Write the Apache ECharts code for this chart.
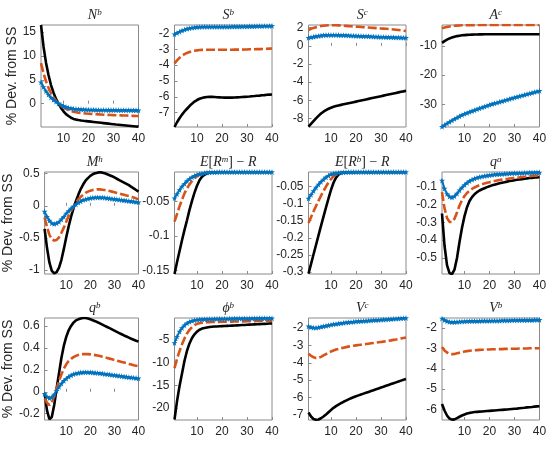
<!DOCTYPE html>
<html>
<head>
<meta charset="utf-8">
<script src="https://cdn.jsdelivr.net/npm/echarts@6/dist/echarts.min.js"></script>
<style>
  html, body { margin: 0; padding: 0; background: #fff; }
  #chart { width: 552px; height: 453px; }
</style>
</head>
<body>
<div id="chart"></div>
<script>
// periods after the shock
const periods = [1,2,3,4,5,6,7,8,9,10,11,12,13,14,15,16,17,18,19,20,21,22,23,24,25,26,27,28,29,30,31,32,33,34,35,36,37,38,39,40]
const xTicks = [10, 20, 30, 40]

// N^b
const nbSolid = [16.5,12.0,8.6,6.0,3.9,2.3,1.0,0.0,-0.9,-1.6,-2.2,-2.6,-2.95,-3.2,-3.35,-3.45,-3.53,-3.6,-3.66,-3.72,-3.78,-3.84,-3.9,-3.96,-4.02,-4.08,-4.14,-4.2,-4.26,-4.32,-4.38,-4.43,-4.48,-4.53,-4.58,-4.63,-4.68,-4.73,-4.78,-4.83]
const nbDash = [8.5,6.4,4.7,3.3,2.2,1.3,0.6,0.0,-0.45,-0.8,-1.1,-1.35,-1.55,-1.7,-1.8,-1.9,-1.97,-2.03,-2.08,-2.12,-2.16,-2.2,-2.23,-2.26,-2.29,-2.32,-2.34,-2.36,-2.38,-2.4,-2.42,-2.44,-2.46,-2.48,-2.5,-2.52,-2.54,-2.56,-2.58,-2.6]
const nbStar = [4.5,3.5,2.6,1.9,1.3,0.8,0.4,0.05,-0.25,-0.5,-0.7,-0.85,-0.97,-1.06,-1.12,-1.17,-1.2,-1.23,-1.25,-1.27,-1.28,-1.29,-1.3,-1.31,-1.32,-1.33,-1.33,-1.34,-1.34,-1.35,-1.35,-1.36,-1.36,-1.37,-1.37,-1.38,-1.38,-1.39,-1.39,-1.4]
// S^b
const sbSolid = [-7.9,-7.6,-7.35,-7.12,-6.92,-6.75,-6.58,-6.43,-6.3,-6.2,-6.12,-6.07,-6.03,-6.01,-6.0,-6.0,-6.01,-6.02,-6.03,-6.04,-6.05,-6.05,-6.05,-6.05,-6.04,-6.03,-6.02,-6.01,-6.0,-5.99,-5.98,-5.96,-5.95,-5.93,-5.92,-5.9,-5.89,-5.87,-5.86,-5.85]
const sbDash = [-3.9,-3.7,-3.54,-3.41,-3.31,-3.23,-3.17,-3.12,-3.09,-3.07,-3.05,-3.04,-3.04,-3.03,-3.03,-3.03,-3.03,-3.03,-3.03,-3.03,-3.03,-3.03,-3.03,-3.03,-3.02,-3.02,-3.02,-3.02,-3.01,-3.01,-3.0,-3.0,-3.0,-2.99,-2.99,-2.98,-2.98,-2.97,-2.96,-2.95]
const sbStar = [-2.05,-1.97,-1.89,-1.82,-1.76,-1.71,-1.67,-1.64,-1.62,-1.6,-1.59,-1.58,-1.58,-1.58,-1.58,-1.58,-1.58,-1.58,-1.58,-1.58,-1.58,-1.58,-1.58,-1.57,-1.57,-1.57,-1.57,-1.56,-1.56,-1.56,-1.55,-1.55,-1.55,-1.54,-1.54,-1.54,-1.53,-1.53,-1.53,-1.52]
// S^c
const scSolid = [-8.9,-8.6,-8.3,-8.0,-7.72,-7.47,-7.26,-7.08,-6.94,-6.82,-6.72,-6.64,-6.57,-6.51,-6.45,-6.39,-6.33,-6.27,-6.21,-6.15,-6.09,-6.03,-5.97,-5.91,-5.85,-5.79,-5.73,-5.67,-5.61,-5.55,-5.49,-5.43,-5.37,-5.31,-5.25,-5.19,-5.13,-5.07,-5.02,-4.96]
const scDash = [1.75,1.88,1.98,2.06,2.13,2.18,2.22,2.25,2.27,2.28,2.28,2.27,2.26,2.24,2.22,2.2,2.18,2.16,2.14,2.12,2.1,2.08,2.06,2.04,2.02,2.0,1.98,1.96,1.94,1.92,1.9,1.88,1.86,1.83,1.8,1.77,1.74,1.71,1.67,1.63]
const scStar = [0.9,0.95,1.0,1.05,1.1,1.14,1.17,1.19,1.2,1.21,1.21,1.2,1.19,1.18,1.17,1.16,1.15,1.13,1.12,1.11,1.1,1.08,1.07,1.06,1.05,1.03,1.02,1.01,1.0,0.99,0.98,0.97,0.96,0.95,0.94,0.93,0.92,0.91,0.9,0.9]
// A^c
const acSolid = [-9.0,-8.4,-7.9,-7.5,-7.15,-6.9,-6.7,-6.55,-6.43,-6.35,-6.28,-6.23,-6.19,-6.16,-6.14,-6.12,-6.1,-6.09,-6.08,-6.07,-6.06,-6.06,-6.05,-6.05,-6.05,-6.05,-6.05,-6.05,-6.05,-6.05,-6.05,-6.05,-6.05,-6.05,-6.05,-6.05,-6.05,-6.05,-6.05,-6.05]
const acDash = [-4.0,-3.75,-3.55,-3.4,-3.28,-3.18,-3.1,-3.05,-3.01,-2.98,-2.96,-2.95,-2.94,-2.93,-2.92,-2.92,-2.91,-2.91,-2.91,-2.9,-2.9,-2.9,-2.9,-2.9,-2.9,-2.9,-2.9,-2.9,-2.9,-2.9,-2.9,-2.9,-2.9,-2.9,-2.9,-2.9,-2.9,-2.9,-2.9,-2.9]
const acStar = [-37.7,-37.15,-36.6,-36.07,-35.55,-35.05,-34.58,-34.13,-33.7,-33.3,-32.97,-32.65,-32.34,-32.03,-31.72,-31.41,-31.1,-30.8,-30.5,-30.2,-29.95,-29.7,-29.45,-29.2,-28.95,-28.7,-28.45,-28.2,-27.95,-27.7,-27.47,-27.24,-27.01,-26.78,-26.55,-26.32,-26.09,-25.86,-25.63,-25.4]
// M^h
const mhSolid = [-0.36,-0.65,-0.88,-1.01,-1.05,-1.03,-0.96,-0.84,-0.67,-0.49,-0.32,-0.17,-0.04,0.07,0.17,0.26,0.33,0.39,0.43,0.465,0.49,0.505,0.515,0.52,0.515,0.505,0.49,0.475,0.46,0.44,0.42,0.4,0.38,0.36,0.34,0.32,0.295,0.27,0.245,0.22]
const mhDash = [-0.18,-0.33,-0.45,-0.52,-0.54,-0.53,-0.49,-0.42,-0.34,-0.25,-0.16,-0.08,-0.01,0.05,0.1,0.14,0.17,0.2,0.22,0.235,0.245,0.25,0.255,0.255,0.25,0.245,0.24,0.23,0.22,0.21,0.2,0.19,0.18,0.17,0.16,0.15,0.14,0.13,0.115,0.1]
const mhStar = [-0.09,-0.17,-0.23,-0.27,-0.28,-0.27,-0.25,-0.21,-0.17,-0.12,-0.08,-0.04,-0.01,0.02,0.05,0.07,0.09,0.1,0.11,0.12,0.125,0.13,0.13,0.13,0.13,0.125,0.12,0.115,0.11,0.105,0.1,0.095,0.09,0.085,0.08,0.075,0.07,0.065,0.06,0.055]
// E[R^m] - R
const ermSolid = [-0.155,-0.138,-0.122,-0.106,-0.091,-0.077,-0.062,-0.049,-0.037,-0.027,-0.019,-0.014,-0.011,-0.009,-0.008,-0.0075,-0.0073,-0.0072,-0.0071,-0.007,-0.007,-0.007,-0.007,-0.007,-0.007,-0.007,-0.007,-0.007,-0.007,-0.007,-0.007,-0.007,-0.007,-0.007,-0.007,-0.007,-0.007,-0.007,-0.007,-0.007]
const ermDash = [-0.079,-0.068,-0.057,-0.047,-0.038,-0.031,-0.025,-0.02,-0.016,-0.013,-0.011,-0.0095,-0.0085,-0.008,-0.0075,-0.0073,-0.0072,-0.0071,-0.007,-0.007,-0.007,-0.007,-0.007,-0.007,-0.007,-0.007,-0.007,-0.007,-0.007,-0.007,-0.007,-0.007,-0.007,-0.007,-0.007,-0.007,-0.007,-0.007,-0.007,-0.007]
const ermStar = [-0.045,-0.039,-0.033,-0.028,-0.024,-0.02,-0.017,-0.0145,-0.0125,-0.011,-0.0098,-0.009,-0.0083,-0.0078,-0.0075,-0.0073,-0.0072,-0.0071,-0.007,-0.007,-0.007,-0.007,-0.007,-0.007,-0.007,-0.007,-0.007,-0.007,-0.007,-0.007,-0.007,-0.007,-0.007,-0.007,-0.007,-0.007,-0.007,-0.007,-0.007,-0.007]
// E[R^b] - R
const erbSolid = [-0.305,-0.277,-0.249,-0.221,-0.193,-0.165,-0.138,-0.111,-0.085,-0.06,-0.039,-0.024,-0.015,-0.011,-0.009,-0.008,-0.0078,-0.0077,-0.0076,-0.0075,-0.0075,-0.0075,-0.0075,-0.0075,-0.0075,-0.0075,-0.0075,-0.0075,-0.0075,-0.0075,-0.0075,-0.0075,-0.0075,-0.0075,-0.0075,-0.0075,-0.0075,-0.0075,-0.0075,-0.0075]
const erbDash = [-0.157,-0.14,-0.123,-0.107,-0.092,-0.077,-0.063,-0.05,-0.038,-0.028,-0.02,-0.015,-0.012,-0.01,-0.009,-0.0085,-0.008,-0.0078,-0.0076,-0.0075,-0.0075,-0.0075,-0.0075,-0.0075,-0.0075,-0.0075,-0.0075,-0.0075,-0.0075,-0.0075,-0.0075,-0.0075,-0.0075,-0.0075,-0.0075,-0.0075,-0.0075,-0.0075,-0.0075,-0.0075]
const erbStar = [-0.085,-0.074,-0.063,-0.053,-0.044,-0.036,-0.029,-0.023,-0.018,-0.014,-0.012,-0.0105,-0.0095,-0.009,-0.0085,-0.008,-0.0078,-0.0077,-0.0076,-0.0075,-0.0075,-0.0075,-0.0075,-0.0075,-0.0075,-0.0075,-0.0075,-0.0075,-0.0075,-0.0075,-0.0075,-0.0075,-0.0075,-0.0075,-0.0075,-0.0075,-0.0075,-0.0075,-0.0075,-0.0075]
// q^a
const qaSolid = [-0.25,-0.43,-0.54,-0.585,-0.59,-0.565,-0.5,-0.41,-0.33,-0.265,-0.215,-0.18,-0.158,-0.142,-0.13,-0.121,-0.114,-0.108,-0.102,-0.097,-0.092,-0.088,-0.084,-0.08,-0.077,-0.074,-0.071,-0.068,-0.066,-0.063,-0.061,-0.059,-0.057,-0.055,-0.053,-0.051,-0.05,-0.048,-0.047,-0.045]
const qaDash = [-0.13,-0.22,-0.275,-0.297,-0.298,-0.28,-0.245,-0.205,-0.175,-0.152,-0.135,-0.122,-0.112,-0.104,-0.097,-0.091,-0.086,-0.081,-0.077,-0.074,-0.071,-0.068,-0.065,-0.062,-0.06,-0.058,-0.056,-0.054,-0.052,-0.05,-0.048,-0.047,-0.045,-0.044,-0.042,-0.041,-0.039,-0.038,-0.037,-0.035]
const qaStar = [-0.065,-0.11,-0.14,-0.155,-0.16,-0.153,-0.138,-0.12,-0.104,-0.09,-0.078,-0.068,-0.06,-0.054,-0.049,-0.045,-0.042,-0.039,-0.037,-0.035,-0.033,-0.031,-0.03,-0.029,-0.028,-0.027,-0.026,-0.025,-0.024,-0.023,-0.023,-0.022,-0.022,-0.021,-0.021,-0.02,-0.02,-0.02,-0.019,-0.019]
// q^b
const qbSolid = [-0.01,-0.17,-0.25,-0.23,-0.12,0.03,0.17,0.31,0.42,0.5,0.56,0.6,0.63,0.65,0.66,0.668,0.672,0.672,0.668,0.66,0.652,0.643,0.633,0.623,0.612,0.601,0.59,0.579,0.568,0.557,0.546,0.535,0.524,0.513,0.503,0.493,0.483,0.474,0.465,0.457]
const qbDash = [-0.06,-0.1,-0.12,-0.1,-0.04,0.03,0.1,0.16,0.21,0.25,0.28,0.3,0.315,0.327,0.335,0.34,0.343,0.344,0.343,0.341,0.338,0.334,0.33,0.325,0.32,0.314,0.308,0.302,0.296,0.29,0.284,0.278,0.272,0.266,0.26,0.254,0.248,0.242,0.237,0.232]
const qbStar = [-0.02,-0.045,-0.057,-0.05,-0.025,0.01,0.045,0.075,0.1,0.12,0.137,0.15,0.16,0.167,0.172,0.175,0.177,0.178,0.178,0.177,0.175,0.173,0.171,0.169,0.166,0.163,0.16,0.157,0.154,0.151,0.148,0.145,0.142,0.139,0.136,0.133,0.13,0.128,0.125,0.123]
// phi^b
const phibSolid = [-22.5,-18.5,-15.2,-12.4,-9.6,-7.4,-5.8,-4.6,-3.8,-3.2,-2.8,-2.55,-2.4,-2.3,-2.2,-2.15,-2.1,-2.07,-2.04,-2.01,-1.98,-1.95,-1.92,-1.89,-1.86,-1.83,-1.8,-1.77,-1.74,-1.71,-1.68,-1.65,-1.62,-1.59,-1.56,-1.53,-1.5,-1.47,-1.44,-1.41]
const phibDash = [-11.2,-9.2,-7.5,-6.0,-4.7,-3.6,-2.8,-2.2,-1.8,-1.5,-1.35,-1.25,-1.2,-1.15,-1.12,-1.1,-1.08,-1.07,-1.06,-1.05,-1.04,-1.03,-1.02,-1.01,-1.0,-0.99,-0.98,-0.96,-0.95,-0.94,-0.92,-0.91,-0.9,-0.88,-0.87,-0.86,-0.84,-0.83,-0.82,-0.8]
const phibStar = [-5.7,-4.3,-3.2,-2.4,-1.8,-1.35,-1.05,-0.85,-0.7,-0.6,-0.55,-0.5,-0.47,-0.45,-0.43,-0.42,-0.41,-0.4,-0.39,-0.38,-0.37,-0.36,-0.35,-0.35,-0.34,-0.33,-0.33,-0.32,-0.32,-0.31,-0.31,-0.3,-0.3,-0.29,-0.29,-0.28,-0.28,-0.27,-0.27,-0.26]
// V^c
const vcSolid = [-6.87,-7.1,-7.24,-7.29,-7.27,-7.2,-7.1,-6.98,-6.85,-6.72,-6.6,-6.5,-6.41,-6.33,-6.25,-6.18,-6.11,-6.05,-5.99,-5.93,-5.88,-5.83,-5.78,-5.73,-5.68,-5.63,-5.58,-5.53,-5.48,-5.43,-5.38,-5.33,-5.28,-5.23,-5.18,-5.13,-5.08,-5.03,-4.98,-4.94]
const vcDash = [-3.48,-3.6,-3.68,-3.72,-3.71,-3.66,-3.58,-3.5,-3.42,-3.35,-3.29,-3.24,-3.2,-3.16,-3.13,-3.1,-3.07,-3.04,-3.02,-3.0,-2.98,-2.96,-2.94,-2.92,-2.9,-2.88,-2.86,-2.84,-2.82,-2.8,-2.78,-2.76,-2.73,-2.71,-2.68,-2.66,-2.63,-2.6,-2.57,-2.54]
const vcStar = [-1.9,-1.95,-1.98,-1.98,-1.96,-1.93,-1.9,-1.87,-1.84,-1.81,-1.78,-1.76,-1.74,-1.72,-1.7,-1.68,-1.67,-1.65,-1.64,-1.62,-1.61,-1.6,-1.59,-1.58,-1.57,-1.56,-1.55,-1.54,-1.53,-1.52,-1.51,-1.5,-1.49,-1.48,-1.47,-1.46,-1.45,-1.44,-1.43,-1.42]
// V^b
const vbSolid = [-5.73,-6.05,-6.3,-6.45,-6.5,-6.49,-6.43,-6.36,-6.3,-6.25,-6.2,-6.17,-6.15,-6.13,-6.12,-6.11,-6.1,-6.09,-6.08,-6.07,-6.06,-6.05,-6.04,-6.03,-6.02,-6.01,-6.0,-5.99,-5.98,-5.97,-5.96,-5.94,-5.93,-5.92,-5.9,-5.89,-5.88,-5.86,-5.85,-5.84]
const vbDash = [-2.93,-3.1,-3.2,-3.26,-3.28,-3.27,-3.24,-3.21,-3.18,-3.15,-3.13,-3.11,-3.1,-3.09,-3.08,-3.07,-3.06,-3.06,-3.05,-3.05,-3.04,-3.04,-3.03,-3.03,-3.03,-3.02,-3.02,-3.02,-3.01,-3.01,-3.01,-3.0,-3.0,-3.0,-3.0,-2.99,-2.99,-2.99,-2.99,-2.99]
const vbStar = [-1.52,-1.6,-1.66,-1.69,-1.7,-1.7,-1.69,-1.68,-1.67,-1.67,-1.66,-1.66,-1.65,-1.65,-1.65,-1.65,-1.64,-1.64,-1.64,-1.64,-1.63,-1.63,-1.63,-1.63,-1.62,-1.62,-1.62,-1.62,-1.61,-1.61,-1.61,-1.61,-1.6,-1.6,-1.6,-1.6,-1.6,-1.59,-1.59,-1.59]

// panel titles (rich text) and y-axis limits / ticks
const panelTitles = [
  '{i|N}{s|b}', '{i|S}{s|b}', '{i|S}{s|c}', '{i|A}{s|c}',
  '{i|M}{s|h}', '{i|E}{n|[}{i|R}{s|m}{n|] − }{i|R}', '{i|E}{n|[}{i|R}{s|b}{n|] − }{i|R}', '{i|q}{s|a}',
  '{i|q}{s|b}', '{i|ϕ}{s|b}', '{i|V}{s|c}', '{i|V}{s|b}'
]
const yLimits = [
  [-4.9, 16.5], [-7.9, -1.47], [-8.95, 2.3], [-37.8, -2.9],
  [-1.06, 0.525], [-0.155, -0.007], [-0.306, -0.0075], [-0.59, -0.017],
  [-0.257, 0.672], [-22.6, -0.22], [-7.3, -1.42], [-6.52, -1.5]
]
const yTicks = [
  [0, 5, 10, 15], [-7, -6, -5, -4, -3, -2], [-8, -6, -4, -2, 0, 2], [-30, -20, -10],
  [-1, -0.5, 0, 0.5], [-0.15, -0.1, -0.05], [-0.3, -0.25, -0.2, -0.15, -0.1, -0.05], [-0.5, -0.4, -0.3, -0.2, -0.1],
  [-0.2, 0, 0.2, 0.4, 0.6], [-20, -15, -10, -5], [-7, -6, -5, -4, -3, -2], [-6, -5, -4, -3, -2]
]
const solidSeries = [nbSolid, sbSolid, scSolid, acSolid, mhSolid, ermSolid, erbSolid, qaSolid, qbSolid, phibSolid, vcSolid, vbSolid]
const dashSeries = [nbDash, sbDash, scDash, acDash, mhDash, ermDash, erbDash, qaDash, qbDash, phibDash, vcDash, vbDash]
const starSeries = [nbStar, sbStar, scStar, acStar, mhStar, ermStar, erbStar, qaStar, qbStar, phibStar, vcStar, vbStar]

const chart = echarts.init(document.getElementById('chart'))

const colLeft = [41, 174.5, 308.5, 442]
const rowTop = [25, 172, 318]
const plotW = 97.5
const plotH = 102
const frameColor = '#8a8a8a'
const textColor = '#262626'
const sans = 'Liberation Sans, Arial, sans-serif'
const serif = 'Liberation Serif, Times New Roman, serif'
const starPath = 'path://M0,-10L2.2,-3.1L9.5,-3.1L3.6,1.2L5.9,8.1L0,3.9L-5.9,8.1L-3.6,1.2L-9.5,-3.1L-2.2,-3.1Z'

const pairs = (vals) => periods.map((p, i) => [p, vals[i]])

const grids = [], xAxes = [], yAxes = [], series = [], titles = []
for (let k = 0; k < 12; k++) {
  const row = Math.floor(k / 4)
  const col = k % 4
  grids.push({
    left: colLeft[col], top: rowTop[row], width: plotW, height: plotH,
    show: true, borderColor: frameColor, borderWidth: 1, backgroundColor: '#fff'
  })
  xAxes.push({
    type: 'value', gridIndex: k, min: 1, max: 40,
    axisLine: { show: false },
    splitLine: { show: false },
    axisTick: { inside: true, length: 3, customValues: xTicks, lineStyle: { color: frameColor } },
    axisLabel: { customValues: xTicks, color: textColor, fontFamily: sans, fontSize: 12, margin: 6 }
  })
  yAxes.push({
    type: 'value', gridIndex: k, min: yLimits[k][0], max: yLimits[k][1],
    name: col === 0 ? '% Dev. from SS' : '',
    nameLocation: 'middle', nameGap: 20,
    nameTextStyle: { color: textColor, fontFamily: sans, fontSize: 14 },
    axisLine: { show: false },
    splitLine: { show: false },
    axisTick: { inside: true, length: 3, customValues: yTicks[k], lineStyle: { color: frameColor } },
    axisLabel: {
      customValues: yTicks[k], color: textColor, fontFamily: sans, fontSize: 12, margin: 5,
      formatter: (v) => String(v)
    }
  })
  titles.push({
    text: panelTitles[k],
    left: colLeft[col] + plotW / 2, top: rowTop[row] - 22, textAlign: 'center',
    textStyle: {
      fontWeight: 'normal',
      rich: {
        i: { fontFamily: serif, fontStyle: 'italic', fontWeight: 'normal', fontSize: 14, color: textColor },
        n: { fontFamily: serif, fontWeight: 'normal', fontSize: 14, color: textColor },
        s: { fontFamily: serif, fontStyle: 'italic', fontWeight: 'normal', fontSize: 9, color: textColor, verticalAlign: 'top' }
      }
    }
  })
  series.push({
    type: 'line', xAxisIndex: k, yAxisIndex: k, data: pairs(solidSeries[k]),
    showSymbol: false, lineStyle: { color: '#000000', width: 2.6 }
  })
  series.push({
    type: 'line', xAxisIndex: k, yAxisIndex: k, data: pairs(dashSeries[k]),
    showSymbol: false, lineStyle: { color: '#D95319', width: 2.6, type: [9, 3] }
  })
  series.push({
    type: 'line', xAxisIndex: k, yAxisIndex: k, data: pairs(starSeries[k]),
    symbol: starPath, symbolSize: 6, showSymbol: true,
    itemStyle: { color: '#0072BD' },
    lineStyle: { color: '#0072BD', width: 2 }
  })
}

chart.setOption({
  animation: false,
  title: titles,
  grid: grids,
  xAxis: xAxes,
  yAxis: yAxes,
  series: series
})
</script>
</body>
</html>
